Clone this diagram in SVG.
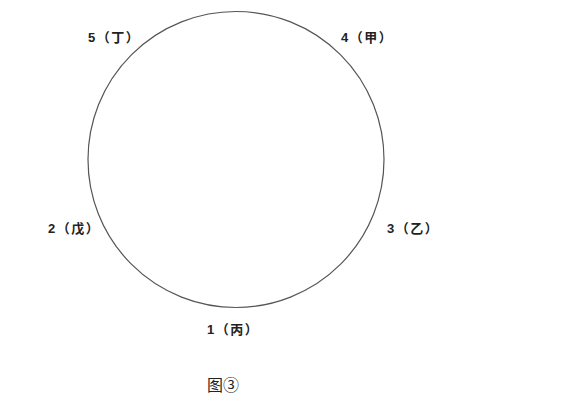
<svg xmlns="http://www.w3.org/2000/svg" width="562" height="414" viewBox="0 0 562 414">
<style>
.lbl{font-family:"Liberation Sans","Noto Sans CJK SC",sans-serif;font-size:13px;font-weight:bold;fill:#222;letter-spacing:1.5px}
.cap{font-family:"Liberation Sans","Noto Sans CJK SC",sans-serif;font-size:16px;fill:#222}
</style>
<rect width="562" height="414" fill="#fff"/>
<g id="connectors">
<circle cx="236" cy="159.5" r="148" fill="none" stroke="#555" stroke-width="1.2"/>
</g>
<g id="n5"><text class="lbl" x="88" y="42">5（丁）</text></g>
<g id="n4"><text class="lbl" x="341" y="42">4（甲）</text></g>
<g id="n2"><text class="lbl" x="48" y="233">2（戊）</text></g>
<g id="n3"><text class="lbl" x="387" y="233">3（乙）</text></g>
<g id="n1"><text class="lbl" x="207" y="334">1（丙）</text></g>
<g id="caption"><text class="cap" x="207" y="391">图③</text></g>
</svg>
